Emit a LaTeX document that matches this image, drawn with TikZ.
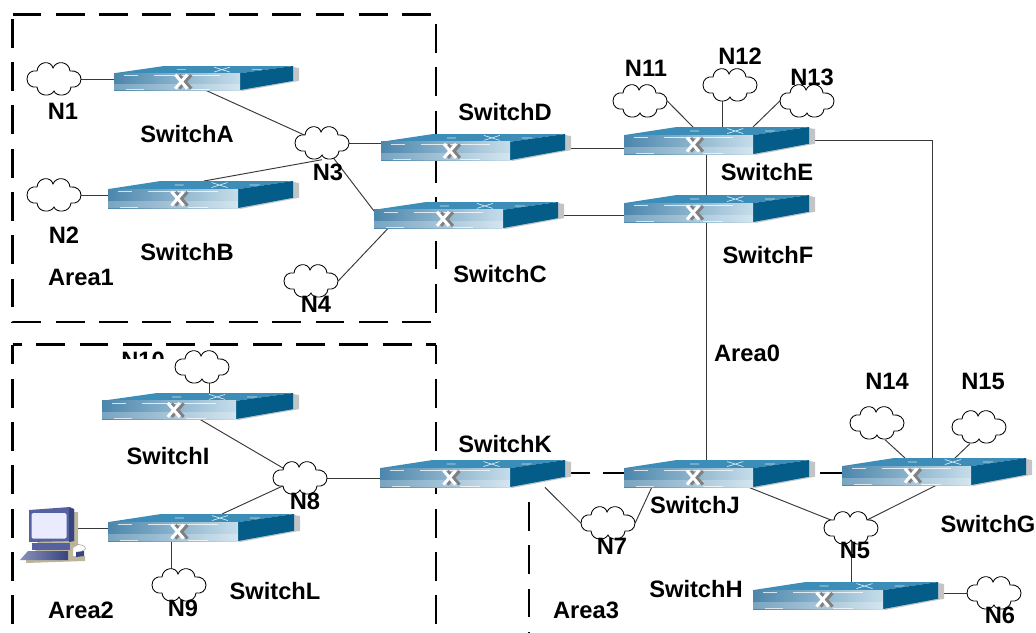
\documentclass[tikz,border=0pt]{standalone}
\usepackage{fontspec}
\setmainfont{Liberation Sans}
\usetikzlibrary{backgrounds}
\definecolor{swtop}{HTML}{3C8DB8}
\definecolor{swside}{HTML}{045C88}
\definecolor{swshadow}{HTML}{C2C4C6}
\definecolor{swdark}{HTML}{4C86AC}
\definecolor{swlight}{HTML}{C6DDEA}
\definecolor{pcblue}{HTML}{55629F}
\definecolor{pcdark}{HTML}{38447F}
\definecolor{pcshadow}{HTML}{BDB69A}
\tikzset{
  lab/.style={font=\bfseries\fontsize{23.7}{25}\selectfont,inner sep=0pt,text=black},
  link/.style={line width=0.95pt,draw=black!78},
  area/.style={line width=2.2pt,draw=black,dash pattern=on 28.8pt off 14.5pt},
  cloudbox/.style={rectangle,inner sep=0pt,minimum width=54pt,minimum height=33pt},
  swbox/.style={rectangle,inner sep=0pt,anchor=north west},
  cloudline/.style={draw=black,line width=0.85pt,fill=white},
}
\newcommand{\cloudat}[3]{%
  \node[cloudbox] (#1) at (#2,#3) {};
  \draw[cloudline,shift={(#2,#3)}]
    (-27,0) .. controls (-27,-6) and (-22,-9) .. (-17,-8)
    .. controls (-16,-18) and (-3,-19) .. (-1,-11)
    .. controls (2,-19) and (15,-18) .. (16,-8)
    .. controls (22,-9) and (27,-5) .. (27,0)
    .. controls (27,6) and (22,9) .. (17,8)
    .. controls (16,18) and (2,18) .. (0,12)
    .. controls (-3,18) and (-16,18) .. (-17,8)
    .. controls (-22,9) and (-27,6) .. (-27,0) -- cycle;
}
% name, x left, x front right, x right, y top, y bottom
\newcommand{\swt}[6]{%
  \node[swbox,minimum width={(#4-#2)*1pt},minimum height={(#6-#5)*1pt}] (#1) at (#2,#5) {};
  \pgfmathsetmacro{\ytf}{#5+0.3*(#6-#5)}
  \pgfmathsetmacro{\ysb}{#5+0.62*(#6-#5)}
  \pgfmathsetmacro{\xc}{#2+0.55*(#3-#2)}
  \pgfmathsetmacro{\yc}{(\ytf+#6)/2}
  \pgfmathsetmacro{\xt}{#3+0.42*(#4-#3)-(#3-#2)*0.32}
  \pgfmathsetmacro{\yt}{(#5+\ytf)/2}
  \fill[swshadow] (#4,#5+1) -- (#4+6,#5+2) -- (#4+6,\ysb) -- (#3+2,#6+1) -- (#3,#6) -- cycle;
  \fill[swtop] (#2,\ytf) -- (#2+0.42*#4-0.42*#2-25,#5) -- (#4,#5) -- (#4,#5) -- (#3,\ytf) -- cycle;
  \fill[swside] (#3,\ytf) -- (#4,#5) -- (#4,\ysb) -- (#3,#6) -- cycle;
  \shade[left color=swdark,right color=swlight] (#2,\ytf) rectangle (#3,#6);
  \fill[white,opacity=0.25] (#2,\yc+2) rectangle (#3,#6);
  \draw[white,opacity=0.75,line width=0.8pt] (#2+10,\ytf+2.5) -- (#2+24,\ytf+2.5)
     (#2+40,\ytf+2.5) -- (#3-20,\ytf+2.5);
  \draw[white,opacity=0.7,line width=0.8pt] (#2+12,#6-0.5) -- (#2+30,#6-0.5) (#3-50,#6-0.5) -- (#3-30,#6-0.5);
  \draw[white,opacity=0.8,line width=0.7pt] (\xt-8,\yt-2.5) -- (\xt+8,\yt+2.5) (\xt-8,\yt+2.5) -- (\xt+8,\yt-2.5)
     (\xt-45,\yt) -- (\xt-36,\yt) (\xt+30,\yt) -- (\xt+40,\yt);
  \draw[gray,line width=3pt] (\xc-4,\yc-6.5) -- (\xc+8,\yc+7) (\xc-4,\yc+7) -- (\xc+8,\yc-6.5);
  \draw[white,line width=3pt] (\xc-8,\yc-7) -- (\xc+4,\yc+7) (\xc-8,\yc+7) -- (\xc+4,\yc-7);
}
\begin{document}
\begin{tikzpicture}[x=1pt,y=-1pt]
\useasboundingbox (0,0) rectangle (1036,632);
\clip (0,0) rectangle (1036,632);

% switches
\swt{swA}{114}{240}{293}{66}{90}
\swt{swB}{108}{238}{293}{181}{208}
\swt{swD}{381}{510}{565}{134}{160}
\swt{swC}{374}{503}{558}{202}{228}
\swt{swE}{624}{753}{809}{127}{154}
\swt{swF}{624}{753}{809}{195}{222}
\swt{swI}{102}{236}{293}{393}{419}
\swt{swL}{108}{238}{294}{514}{541}
\swt{swK}{380}{510}{565}{460}{487}
\swt{swJ}{624}{753}{809}{460}{487}
\swt{swG}{842}{971}{1026}{458}{485}
\swt{swH}{753}{883}{938}{582}{609}

% clouds
\cloudat{nA}{54}{79}
\cloudat{nB}{54}{195}
\cloudat{nC}{322}{143}
\cloudat{nD}{311}{281}
\cloudat{nE}{851}{528}
\cloudat{nF}{994}{593}
\cloudat{nG}{608}{523}
\cloudat{nH}{300}{478}
\cloudat{nI}{179}{585}
\cloudat{nJ}{202}{367}
\cloudat{nK}{640}{101}
\cloudat{nL}{730}{85}
\cloudat{nM}{807}{101}
\cloudat{nN}{877}{423}
\cloudat{nO}{979}{427}

% computer
\node[rectangle,inner sep=0pt,minimum width=54pt,minimum height=62pt] (pc) at (47,535) {};
\coordinate (pcport) at (72,528);
\fill[pcshadow] (31,512) -- (78,512) -- (78,545) -- (73,548) -- (73,556) -- (85,556) -- (85,561) -- (26,563) -- (26,560) -- (38,548) -- (38,545) -- cycle;
\fill[pcblue] (29,510) -- (70,507) -- (74,509) -- (74,541) -- (29,542) -- cycle;
\fill[pcdark] (69,508) -- (74,509) -- (74,541) -- (69,542) -- cycle;
\fill[white!92!blue,rounded corners=1.5pt] (31.5,513) rectangle (66.5,538.5);
\fill[pcblue] (32,543) rectangle (70,550);
\shade[left color=pcblue!70,right color=pcdark] (20,560) -- (28,551) -- (68,551) -- (68,560) -- cycle;
\fill[pcdark] (76,552) -- (84,551) -- (84,556) -- (76,557) -- cycle;
\draw[black!35,line width=0.6pt] (72,544) .. controls (84,544) and (90,548) .. (82,551);

% labels
\node[lab] (tA) at (187,134) {SwitchA};
\node[lab] (tB) at (187,252) {SwitchB};
\node[lab] (tD) at (505,112) {SwitchD};
\node[lab] (tC) at (500,274) {SwitchC};
\node[lab] (tE) at (767,172) {SwitchE};
\node[lab] (tF) at (768,255) {SwitchF};
\node[lab] (tK) at (505,444) {SwitchK};
\node[lab] (tI) at (168,456) {SwitchI};
\node[lab] (tL) at (275,591) {SwitchL};
\node[lab] (tJ) at (695,505) {SwitchJ};
\node[lab] (tG) at (988,524) {SwitchG};
\node[lab] (tH) at (696,589) {SwitchH};
\node[lab] (aA) at (81,277) {Area1};
\node[lab] (aB) at (81,610) {Area2};
\node[lab] (aC) at (586,610) {Area3};
\node[lab] (aO) at (747,353) {Area0};
\node[lab] (lA) at (63,111) {N1};
\node[lab] (lB) at (64,235) {N2};
\node[lab] (lC) at (328,172) {N3};
\node[lab] (lD) at (316,304) {N4};
\node[lab] (lE) at (855,550) {N5};
\node[lab] (lF) at (1000,615) {N6};
\node[lab] (lG) at (612,546) {N7};
\node[lab] (lH) at (305,501) {N8};
\node[lab] (lI) at (183,608) {N9};
\begin{scope}
  \clip (100,340) rectangle (172,358.5);
  \node[lab] (lJ) at (143,360) {N10};
\end{scope}
\node[lab] (lK) at (646,68) {N11};
\node[lab] (lL) at (740,56) {N12};
\node[lab] (lM) at (812,77) {N13};
\node[lab] (lN) at (887,381) {N14};
\node[lab] (lO) at (983,381) {N15};

\begin{scope}[on background layer]
  % area frames
  \draw[area] (12.5,14.5) -- (436,14.5) -- (436,322) -- (12.5,322) -- cycle;
  \draw[area,dash phase=9pt] (12.5,344.5) -- (12.5,640);
  \draw[area,dash phase=9pt] (436,344.5) -- (436,640);
  \draw[area,dash phase=19.5pt] (12.5,344.5) -- (436,344.5);
  \draw[area] (529,502) -- (529,640);
  \draw[area,dash pattern=on 20pt off 13pt on 21pt off 300pt] (570,473) -- (842,473);
  \draw[area] (820,473) -- (842,473);
  % links
  \draw[link] (nA.center) -- (nA.center -| swA.west);
  \draw[link] (nB.center) -- (nB.center -| swB.west);
  \draw[link] (nC.center) -- (nC.center -| swD.west);
  \draw[link] ([xshift=92pt]swA.south west) -- (nC.center);
  \draw[link] ([xshift=96pt]swB.north west) -- (nC.south);
  \draw[link] ([yshift=-9pt]swC.north west) -- (nC.center);
  \draw[link] ([xshift=14pt]swC.south west) -- (nD.east);
  \draw[link] ([yshift=12pt]swD.south east) -- ([yshift=12pt]swD.south east -| swE.west);
  \draw[link] ([yshift=-13pt]swC.north east) -- ([yshift=-13pt]swC.north east -| swF.west);
  \draw[link] ([xshift=82pt]swE.south west) -- ([xshift=82pt]swF.north west);
  \draw[link] ([xshift=82pt]swF.south west) -- ([xshift=82pt]swJ.north west);
  \coordinate (egcorner) at (932,140);
  \draw[link] ([yshift=-13pt]swE.north east) -- (egcorner) -- (egcorner |- swG.north);
  \draw[link] ([xshift=69pt]swE.north west) -- (nK.east);
  \draw[link] ([xshift=98pt]swE.north west) -- ([xshift=98pt]swE.north west |- nL.center);
  \draw[link] ([xshift=129pt]swE.north west) -- (nM.west);
  \draw[link] ([xshift=107.6pt]swI.north west |- nJ.center) -- ([xshift=107.6pt]swI.north west);
  \draw[link] ([xshift=98pt]swI.south west) -- (nH.center);
  \draw[link] ([xshift=114pt]swL.north west) -- (nH.center);
  \draw[link] (nH.center) -- (nH.center -| swK.west);
  \draw[link] (pcport) -- (pcport -| swL.west);
  \draw[link] ([xshift=63pt]swL.south west) -- ([xshift=63pt]swL.south west |- nI.center);
  \draw[link] ([xshift=165pt]swK.south west) -- (nG.west);
  \draw[link] ([xshift=27.7pt]swJ.south west) -- (nG.east);
  \draw[link] ([xshift=125pt]swJ.south west) -- (nE.center);
  \draw[link] ([xshift=94pt]swG.south west) -- (nE.center);
  \draw[link] (nE.center) -- (nE.center |- swH.north);
  \draw[link] (nF.center) -- (nF.center -| swH.east);
  \draw[link] ([xshift=63pt]swG.north west) -- ([xshift=8pt]nN.south);
  \draw[link] ([xshift=113pt]swG.north west) -- ([xshift=-9pt]nO.south);
\end{scope}
\end{tikzpicture}
\end{document}
